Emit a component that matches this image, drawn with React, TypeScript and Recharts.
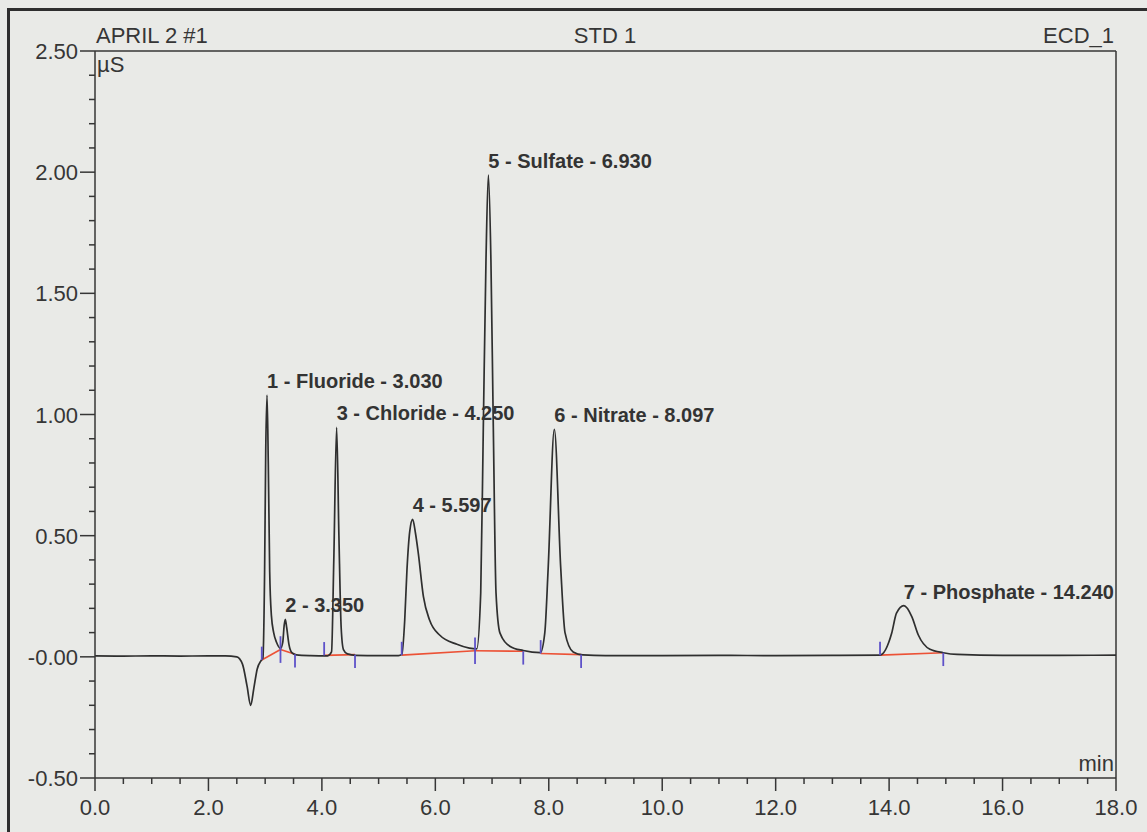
import React from "react";
import {
  ComposedChart,
  Line,
  Scatter,
  XAxis,
  YAxis,
  ReferenceLine,
} from "recharts";

// retention time (min) and conductivity (µS)
const times = [
  0.0, 0.5, 1.0, 1.5, 2.0, 2.3, 2.5, 2.6, 2.68, 2.745, 2.8, 2.86, 2.93, 2.96,
  2.99, 3.01, 3.033, 3.055, 3.08, 3.11, 3.15, 3.2, 3.27, 3.31, 3.335, 3.355,
  3.38, 3.42, 3.47, 3.55, 3.8, 4.1, 4.17, 4.21, 4.26, 4.3, 4.34, 4.38, 4.45,
  4.6, 5.0, 5.35, 5.41, 5.46, 5.5, 5.55, 5.6, 5.65, 5.7, 5.79, 5.9, 6.08,
  6.38, 6.6, 6.73, 6.8, 6.846, 6.893, 6.935, 6.98, 7.022, 7.07, 7.14, 7.32,
  7.55, 7.85, 7.93, 7.99, 8.098, 8.21, 8.286, 8.43, 8.6, 9.0, 10.0, 11.0,
  12.0, 13.0, 13.84, 14.045, 14.13, 14.26, 14.4, 14.515, 14.72, 14.955, 15.2,
  16.0, 17.0, 18.0,
];
const signal = [
  0.004, 0.003, 0.004, 0.003, 0.004, 0.004, 0.0, -0.03, -0.12, -0.2, -0.13,
  -0.05, -0.015, -0.005, 0.35, 0.85, 1.08, 0.8, 0.35, 0.17, 0.1, 0.06, 0.035,
  0.06, 0.13, 0.155, 0.12, 0.05, 0.017, 0.008, 0.005, 0.004, 0.02, 0.4, 0.947,
  0.5, 0.12, 0.03, 0.012, 0.006, 0.005, 0.005, 0.01, 0.15, 0.36, 0.52, 0.567,
  0.51, 0.427, 0.248, 0.151, 0.089, 0.052, 0.036, 0.033, 0.263, 0.95, 1.637,
  1.988, 1.637, 0.95, 0.263, 0.098, 0.043, 0.026, 0.017, 0.1, 0.37, 0.939,
  0.37, 0.1, 0.02, 0.008, 0.005, 0.005, 0.006, 0.005, 0.006, 0.007, 0.097,
  0.18, 0.211, 0.166, 0.09, 0.031, 0.017, 0.01, 0.006, 0.006, 0.007,
];

// peak annotations
const peakTimes = [3.033, 3.355, 4.26, 5.6, 6.935, 8.098, 14.26];
const peakHeights = [1.08, 0.155, 0.947, 0.567, 1.988, 0.939, 0.211];
const peakLabels = [
  "1 - Fluoride - 3.030",
  "2 - 3.350",
  "3 - Chloride - 4.250",
  "4 - 5.597",
  "5 - Sulfate - 6.930",
  "6 - Nitrate - 8.097",
  "7 - Phosphate - 14.240",
];

// integration baselines (groups of connected points)
const baselineGroups: [number, number][][] = [
  [[2.94, -0.013], [3.27, 0.03], [3.526, 0.011]],
  [[4.04, 0.006], [4.584, 0.009]],
  [[5.407, 0.007], [6.7, 0.025], [7.55, 0.023]],
  [[7.857, 0.014], [8.57, 0.009]],
  [[13.84, 0.007], [14.955, 0.017]],
];

// peak delimiters: time, value, direction (1 start, -1 end, 0 both)
const markTimes = [2.94, 3.27, 3.526, 4.04, 4.584, 5.407, 6.7, 7.55, 7.857, 8.57, 13.84, 14.955];
const markValues = [-0.013, 0.03, 0.011, 0.006, 0.009, 0.007, 0.025, 0.023, 0.014, 0.009, 0.007, 0.017];
const markDirs = [1, 0, -1, 1, -1, 1, 0, -1, 1, -1, 1, -1];

const xMajor = [0, 2, 4, 6, 8, 10, 12, 14, 16, 18];
const xTickLabels = ["0.0", "2.0", "4.0", "6.0", "8.0", "10.0", "12.0", "14.0", "16.0", "18.0"];
const yMajor = [-0.5, 0, 0.5, 1, 1.5, 2, 2.5];
const yTickLabels = ["-0.50", "-0.00", "0.50", "1.00", "1.50", "2.00", "2.50"];

const xTicks = Array.from({ length: 37 }, (_, i) => i * 0.5);
const yTicks = Array.from({ length: 31 }, (_, i) => Math.round((-0.5 + i * 0.1) * 10) / 10);

const traceData = times.map((t, i) => ({ t, v: signal[i] }));
const peakData = peakTimes.map((t, i) => ({ t, v: peakHeights[i], label: peakLabels[i] }));

const INK = "#363636";
const FONT = "'Liberation Sans', Arial, Helvetica, sans-serif";
const TICK_H = 0.055;

const findIdx = (arr: number[], v: number) => arr.findIndex((a) => Math.abs(a - v) < 1e-6);

const XTick = (props: any) => {
  const { x, y, payload } = props;
  const idx = findIdx(xMajor, payload.value);
  const major = idx >= 0;
  return (
    <g>
      <line x1={x} x2={x} y1={y} y2={y + (major ? 13 : 6)} stroke={INK} strokeWidth={1.5} />
      {major && (
        <text x={x} y={y + 37} textAnchor="middle" fontSize={22} fill={INK} fontFamily={FONT}>
          {xTickLabels[idx]}
        </text>
      )}
    </g>
  );
};

const YTick = (props: any) => {
  const { x, y, payload } = props;
  const idx = findIdx(yMajor, payload.value);
  const major = idx >= 0;
  return (
    <g>
      <line x1={x - (major ? 15 : 6)} x2={x} y1={y} y2={y} stroke={INK} strokeWidth={1.5} />
      {major && (
        <text x={x - 17} y={y + 8} textAnchor="end" fontSize={22} fill={INK} fontFamily={FONT}>
          {yTickLabels[idx]}
        </text>
      )}
    </g>
  );
};

const PeakLabel = (props: any) => {
  const { cx, cy, payload } = props;
  return (
    <text x={cx} y={cy - 7} fontSize={20} fontWeight="bold" fill="#333" fontFamily={FONT}>
      {payload.label}
    </text>
  );
};

export default function App() {
  return (
    <div
      style={{
        position: "fixed",
        left: 0,
        top: 0,
        width: 1147,
        height: 832,
        overflow: "hidden",
        background: "#e9eae7",
        fontFamily: FONT,
      }}
    >
      <div
        style={{
          position: "absolute",
          left: 7,
          top: 8,
          width: 1300,
          height: 1000,
          borderLeft: "3px solid #2e2e2e",
          borderTop: "3px solid #2e2e2e",
        }}
      />
      <ComposedChart
        width={1147}
        height={832}
        data={traceData}
        margin={{ top: 51, right: 31, bottom: 0, left: 0 }}
        style={{ position: "absolute", left: 0, top: 0 }}
      >
        <XAxis
          dataKey="t"
          type="number"
          domain={[0, 18]}
          ticks={xTicks}
          interval={0}
          height={54}
          tickSize={0}
          tickMargin={0}
          tickLine={false}
          tick={(p: any) => <XTick {...p} />}
          axisLine={{ stroke: INK, strokeWidth: 1.5 }}
          allowDataOverflow
        />
        <YAxis
          type="number"
          domain={[-0.5, 2.5]}
          ticks={yTicks}
          interval={0}
          width={95}
          tickSize={0}
          tickMargin={0}
          tickLine={false}
          tick={(p: any) => <YTick {...p} />}
          axisLine={{ stroke: INK, strokeWidth: 1.5 }}
          allowDataOverflow
        />
        <ReferenceLine y={2.5} stroke={INK} strokeWidth={1.5} />
        <ReferenceLine x={18} stroke={INK} strokeWidth={1.5} />
        {baselineGroups.map((g, gi) =>
          g.slice(1).map((p, i) => (
            <ReferenceLine
              key={`b${gi}-${i}`}
              segment={[
                { x: g[i][0], y: g[i][1] },
                { x: p[0], y: p[1] },
              ]}
              stroke="#ec5236"
              strokeWidth={1.6}
            />
          ))
        )}
        <Line
          dataKey="v"
          type="monotone"
          stroke="#2f2f2f"
          strokeWidth={1.7}
          dot={false}
          activeDot={false}
          isAnimationActive={false}
        />
        {markTimes.map((t, i) => (
          <ReferenceLine
            key={`m${i}`}
            segment={[
              { x: t, y: markValues[i] + (markDirs[i] >= 0 ? TICK_H : 0) },
              { x: t, y: markValues[i] - (markDirs[i] <= 0 ? TICK_H : 0) },
            ]}
            stroke="#5e52c9"
            strokeWidth={1.8}
          />
        ))}
        <Scatter
          data={peakData}
          dataKey="v"
          shape={(p: any) => <PeakLabel {...p} />}
          isAnimationActive={false}
        />
      </ComposedChart>
      <div style={{ position: "absolute", left: 96, top: 24, fontSize: 22, color: INK, lineHeight: "24px" }}>
        APRIL 2 #1
      </div>
      <div
        style={{
          position: "absolute",
          left: 505,
          width: 200,
          top: 24,
          textAlign: "center",
          fontSize: 22,
          color: INK,
          lineHeight: "24px",
        }}
      >
        STD 1
      </div>
      <div
        style={{
          position: "absolute",
          right: 1147 - 1114,
          top: 24,
          fontSize: 22,
          color: INK,
          lineHeight: "24px",
        }}
      >
        ECD_1
      </div>
      <div style={{ position: "absolute", left: 97, top: 53, fontSize: 22, color: INK, lineHeight: "24px" }}>
        µS
      </div>
      <div
        style={{
          position: "absolute",
          right: 1147 - 1114,
          top: 752,
          fontSize: 22,
          color: INK,
          lineHeight: "24px",
        }}
      >
        min
      </div>
    </div>
  );
}
